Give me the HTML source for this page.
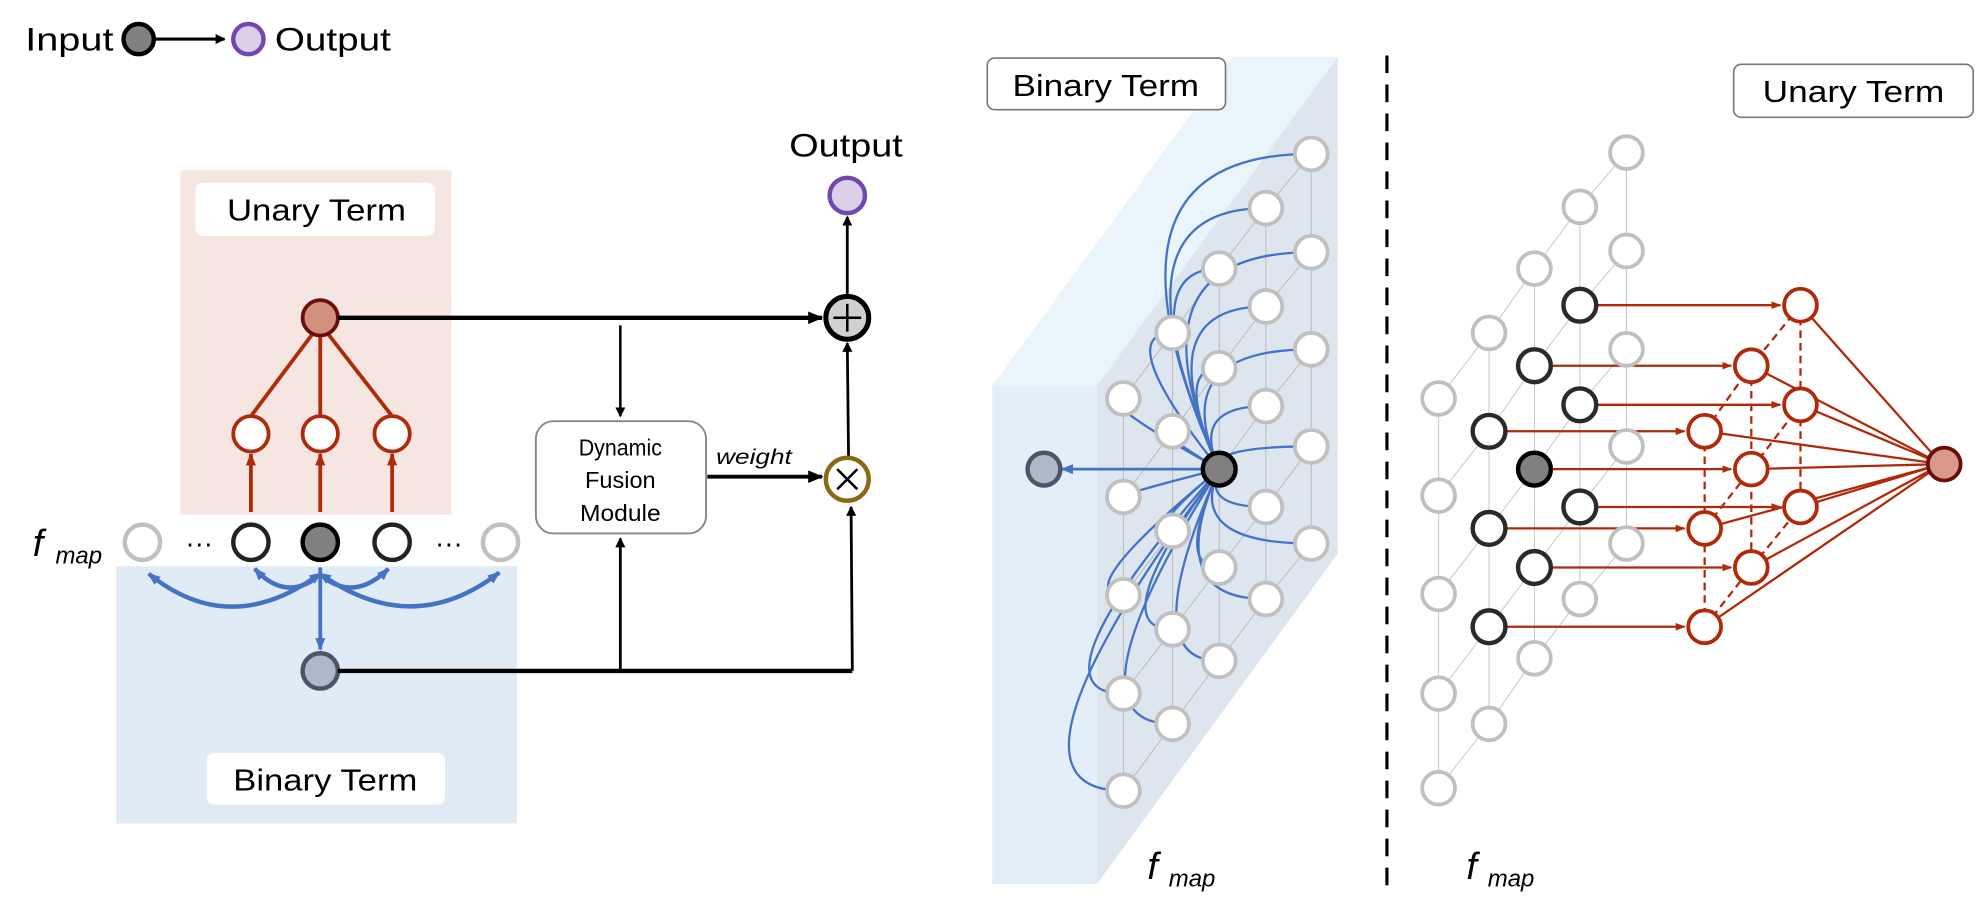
<!DOCTYPE html>
<html><head><meta charset="utf-8"><style>
html,body{margin:0;padding:0;background:#fff;}
svg{display:block;}
text{font-family:"Liberation Sans",sans-serif;}
</style></head><body>
<svg width="1977" height="908" viewBox="0 0 1568 720" preserveAspectRatio="none" xmlns="http://www.w3.org/2000/svg">
<defs>
<marker id="ak" markerWidth="8" markerHeight="8" refX="7" refY="4" orient="auto" markerUnits="userSpaceOnUse"><path d="M0,0 L8,4 L0,8 z" fill="#000"/></marker>
<marker id="akb" markerWidth="12" markerHeight="10" refX="11" refY="5" orient="auto" markerUnits="userSpaceOnUse"><path d="M0,0 L12,5 L0,10 z" fill="#000"/></marker>
<marker id="ar" markerWidth="10" markerHeight="8" refX="9" refY="4" orient="auto" markerUnits="userSpaceOnUse"><path d="M0,0 L10,4 L0,8 z" fill="#b02a0a"/></marker>
<marker id="arr" markerWidth="8" markerHeight="6" refX="7" refY="3" orient="auto" markerUnits="userSpaceOnUse"><path d="M0,0 L8,3 L0,6 z" fill="#b02a0a"/></marker>
<marker id="ab" markerWidth="10" markerHeight="8" refX="9" refY="4" orient="auto" markerUnits="userSpaceOnUse"><path d="M0,0 L10,4 L0,8 z" fill="#4472c4"/></marker>
<marker id="abs" markerWidth="10" markerHeight="8" refX="1" refY="4" orient="auto-start-reverse" markerUnits="userSpaceOnUse"><path d="M0,0 L10,4 L0,8 z" fill="#4472c4"/></marker>
</defs>

<!-- Legend -->
<text x="20" y="40" font-size="26" textLength="70" lengthAdjust="spacingAndGlyphs">Input</text>
<circle cx="110" cy="31" r="12" fill="#808080" stroke="#000" stroke-width="3.5"/>
<line x1="123" y1="31" x2="178" y2="31" stroke="#000" stroke-width="2.5" marker-end="url(#ak)"/>
<circle cx="197" cy="31" r="12" fill="#dcd0e8" stroke="#7048b0" stroke-width="3.5"/>
<text x="218" y="40" font-size="26" textLength="92" lengthAdjust="spacingAndGlyphs">Output</text>

<!-- Left: pink box -->
<rect x="143" y="135" width="215" height="273" fill="#f5e6e2"/>
<rect x="155" y="145" width="190" height="42" rx="6" fill="#fff"/>
<text x="180" y="175" font-size="24" textLength="142" lengthAdjust="spacingAndGlyphs">Unary Term</text>
<!-- blue box -->
<rect x="92" y="449" width="318" height="204" fill="#e1ebf5"/>
<rect x="164" y="597" width="189" height="41" rx="6" fill="#fff"/>
<text x="185" y="627" font-size="24" textLength="146" lengthAdjust="spacingAndGlyphs">Binary Term</text>

<!-- red tree -->
<g stroke="#b02a0a" stroke-width="3" fill="none">
<line x1="250" y1="262" x2="199" y2="330"/>
<line x1="254" y1="266" x2="254" y2="330"/>
<line x1="258" y1="262" x2="311" y2="330"/>
<line x1="199" y1="406" x2="199" y2="360" marker-end="url(#ar)"/>
<line x1="254" y1="406" x2="254" y2="360" marker-end="url(#ar)"/>
<line x1="311" y1="406" x2="311" y2="360" marker-end="url(#ar)"/>
</g>
<circle cx="254" cy="252" r="14" fill="#d4907f" stroke="#6b0d0d" stroke-width="3"/>
<g fill="#fff" stroke="#b02a0a" stroke-width="3">
<circle cx="199" cy="344" r="14"/><circle cx="254" cy="344" r="14"/><circle cx="311" cy="344" r="14"/>
</g>

<!-- fmap row -->
<text x="26" y="441" font-size="30" font-style="italic">f</text>
<text x="44" y="447" font-size="19" font-style="italic">map</text>
<g stroke-width="3.5">
<circle cx="113" cy="430" r="14" fill="#fff" stroke="#c0c0c0"/>
<circle cx="199" cy="430" r="14" fill="#fff" stroke="#222"/>
<circle cx="254" cy="430" r="14" fill="#808080" stroke="#000"/>
<circle cx="311" cy="430" r="14" fill="#fff" stroke="#222"/>
<circle cx="397" cy="430" r="14" fill="#fff" stroke="#c0c0c0"/>
</g>
<text x="147" y="438" font-size="22">···</text>
<text x="345" y="438" font-size="22">···</text>

<!-- blue arcs -->
<g stroke="#4472c4" stroke-width="3.5" fill="none">
<path d="M248,459 Q180,505 118,455" marker-start="url(#abs)" marker-end="url(#ab)"/>
<path d="M250,459 Q225,476 202,451" marker-end="url(#ab)"/>
<path d="M258,459 Q283,476 308,451" marker-end="url(#ab)"/>
<path d="M260,459 Q330,505 396,454" marker-start="url(#abs)" marker-end="url(#ab)"/>
<line x1="254" y1="450" x2="254" y2="515" stroke-width="3" marker-end="url(#ab)"/>
</g>
<circle cx="254" cy="532" r="14" fill="#aeb8c9" stroke="#4a5568" stroke-width="3.5"/>

<!-- black connectors -->
<g stroke="#000" fill="none">
<line x1="268" y1="252" x2="652" y2="252" stroke-width="3.5" marker-end="url(#akb)"/>
<line x1="492" y1="258" x2="492" y2="330" stroke-width="2" marker-end="url(#ak)"/>
<line x1="268" y1="532" x2="676" y2="532" stroke-width="3.5"/>
<line x1="492" y1="532" x2="492" y2="427" stroke-width="2.2" marker-end="url(#ak)"/>
<line x1="676" y1="532" x2="675" y2="402" stroke-width="2.2" marker-end="url(#ak)"/>
<line x1="673" y1="362" x2="672" y2="272" stroke-width="2.2" marker-end="url(#ak)"/>
<line x1="672" y1="233" x2="672" y2="172" stroke-width="2.2" marker-end="url(#ak)"/>
<line x1="561" y1="378" x2="652" y2="378" stroke-width="3" marker-end="url(#akb)"/>
</g>
<rect x="425" y="334" width="135" height="89" rx="14" fill="#fff" stroke="#888" stroke-width="1.5"/>
<text x="492" y="361" font-size="18" text-anchor="middle" textLength="66" lengthAdjust="spacingAndGlyphs">Dynamic</text>
<text x="492" y="387" font-size="18" text-anchor="middle" textLength="56" lengthAdjust="spacingAndGlyphs">Fusion</text>
<text x="492" y="413" font-size="18" text-anchor="middle" textLength="64" lengthAdjust="spacingAndGlyphs">Module</text>
<text x="598" y="368" font-size="17" font-style="italic" text-anchor="middle" textLength="60" lengthAdjust="spacingAndGlyphs">weight</text>
<circle cx="672" cy="252" r="17" fill="#d0d0d0" stroke="#000" stroke-width="4"/>
<path d="M672,241 V263 M661,252 H683" stroke="#000" stroke-width="2"/>
<circle cx="672" cy="380" r="17" fill="#fff" stroke="#8b6914" stroke-width="3.5"/>
<path d="M664,372 L680,388 M680,372 L664,388" stroke="#000" stroke-width="2"/>
<circle cx="672" cy="155" r="14" fill="#dcd0e8" stroke="#7048b0" stroke-width="3.5"/>
<text x="626" y="124" font-size="26" textLength="90" lengthAdjust="spacingAndGlyphs">Output</text>

<!-- Right: binary slab -->
<polygon points="787,306 978,45 1061,45 870,306" fill="#eaf4fb"/>
<rect x="787" y="306" width="83" height="395" fill="#e3eef8"/>
<polygon points="870,306 1061,45 1061,439 870,701" fill="#dde6ee"/>
<rect x="783" y="46" width="189" height="41" rx="6" fill="#fff" stroke="#777" stroke-width="1.3"/>
<text x="803" y="76" font-size="24" textLength="148" lengthAdjust="spacingAndGlyphs">Binary Term</text>

<g stroke="#bbb" stroke-width="0.8">
<line x1="891" y1="316" x2="891" y2="627"/><line x1="930" y1="264" x2="930" y2="574"/><line x1="967" y1="213" x2="967" y2="524"/><line x1="1004" y1="165" x2="1004" y2="475"/><line x1="1040" y1="122" x2="1040" y2="431"/>
<polyline fill="none" points="891,316 930,264 967,213 1004,165 1040,122"/>
<polyline fill="none" points="891,394 930,342 967,292 1004,243 1040,200"/>
<polyline fill="none" points="891,472 930,421 967,372 1004,322 1040,277"/>
<polyline fill="none" points="891,550 930,499 967,450 1004,402 1040,354"/>
<polyline fill="none" points="891,627 930,574 967,524 1004,475 1040,431"/>
</g>
<g stroke="#4472c4" stroke-width="1.8" fill="none">
<path d="M967,372 Q866,316 891,316"/><path d="M967,372 Q881,394 891,394"/><path d="M967,372 Q846,472 891,472"/><path d="M967,372 Q811,550 891,550"/><path d="M967,372 Q776,627 891,627"/>
<path d="M967,372 Q881,264 930,264"/><path d="M967,372 Q916,342 930,342"/><path d="M967,372 Q908,421 930,421"/><path d="M967,372 Q873,499 930,499"/><path d="M967,372 Q839,574 930,574"/>
<path d="M967,372 Q895,213 967,213"/><path d="M967,372 Q931,292 967,292"/><path d="M967,372 Q932,450 967,450"/><path d="M967,372 Q899,524 967,524"/>
<path d="M967,372 Q874,165 1004,165"/><path d="M967,372 Q909,243 1004,243"/><path d="M967,372 Q944,322 1004,322"/><path d="M967,372 Q953,402 1004,402"/><path d="M967,372 Q921,475 1004,475"/>
<path d="M967,372 Q854,122 1040,122"/><path d="M967,372 Q890,200 1040,200"/><path d="M967,372 Q924,277 1040,277"/><path d="M967,372 Q959,354 1040,354"/><path d="M967,372 Q940,431 1040,431"/>
<line x1="955" y1="372" x2="842" y2="372" stroke-width="2.2" marker-end="url(#ab)"/>
</g>
<g fill="#fff" stroke="#c0c0c0" stroke-width="3">
<circle cx="891" cy="316" r="13"/><circle cx="891" cy="394" r="13"/><circle cx="891" cy="472" r="13"/><circle cx="891" cy="550" r="13"/><circle cx="891" cy="627" r="13"/>
<circle cx="930" cy="264" r="13"/><circle cx="930" cy="342" r="13"/><circle cx="930" cy="421" r="13"/><circle cx="930" cy="499" r="13"/><circle cx="930" cy="574" r="13"/>
<circle cx="967" cy="213" r="13"/><circle cx="967" cy="292" r="13"/><circle cx="967" cy="450" r="13"/><circle cx="967" cy="524" r="13"/>
<circle cx="1004" cy="165" r="13"/><circle cx="1004" cy="243" r="13"/><circle cx="1004" cy="322" r="13"/><circle cx="1004" cy="402" r="13"/><circle cx="1004" cy="475" r="13"/>
<circle cx="1040" cy="122" r="13"/><circle cx="1040" cy="200" r="13"/><circle cx="1040" cy="277" r="13"/><circle cx="1040" cy="354" r="13"/><circle cx="1040" cy="431" r="13"/>
</g>
<circle cx="967" cy="372" r="13" fill="#808080" stroke="#000" stroke-width="3.5"/>
<circle cx="828" cy="372" r="13" fill="#aeb8c9" stroke="#4a5568" stroke-width="3.5"/>
<text x="910" y="697" font-size="30" font-style="italic">f</text>
<text x="927" y="703" font-size="19" font-style="italic">map</text>

<!-- divider -->
<line x1="1100" y1="44" x2="1100" y2="705" stroke="#000" stroke-width="2.5" stroke-dasharray="14,9"/>

<!-- Right: unary -->
<rect x="1375" y="51" width="190" height="42" rx="6" fill="#fff" stroke="#777" stroke-width="1.3"/>
<text x="1398" y="81" font-size="24" textLength="144" lengthAdjust="spacingAndGlyphs">Unary Term</text>
<g stroke="#c8c8c8" stroke-width="0.8" fill="none">
<line x1="1141" y1="316" x2="1141" y2="625"/><line x1="1181" y1="264" x2="1181" y2="574"/><line x1="1217" y1="213" x2="1217" y2="522"/><line x1="1253" y1="164" x2="1253" y2="475"/><line x1="1290" y1="121" x2="1290" y2="431"/>
<polyline points="1141,316 1181,264 1217,213 1253,164 1290,121"/>
<polyline points="1141,393 1181,342 1217,290 1253,242 1290,199"/>
<polyline points="1141,471 1181,419 1217,372 1253,321 1290,277"/>
<polyline points="1141,550 1181,497 1217,450 1253,402 1290,354"/>
<polyline points="1141,625 1181,574 1217,522 1253,475 1290,431"/>
</g>
<g stroke="#b02a0a" stroke-width="1.8" fill="none">
<line x1="1267" y1="242" x2="1412" y2="242" marker-end="url(#arr)"/>
<line x1="1231" y1="290" x2="1373" y2="290" marker-end="url(#arr)"/>
<line x1="1267" y1="321" x2="1412" y2="321" marker-end="url(#arr)"/>
<line x1="1195" y1="342" x2="1336" y2="342" marker-end="url(#arr)"/>
<line x1="1231" y1="372" x2="1373" y2="372" marker-end="url(#arr)"/>
<line x1="1267" y1="402" x2="1412" y2="402" marker-end="url(#arr)"/>
<line x1="1195" y1="419" x2="1336" y2="419" marker-end="url(#arr)"/>
<line x1="1231" y1="450" x2="1373" y2="450" marker-end="url(#arr)"/>
<line x1="1195" y1="497" x2="1336" y2="497" marker-end="url(#arr)"/>
<g stroke-dasharray="6,4">
<line x1="1352" y1="342" x2="1352" y2="497"/><line x1="1389" y1="290" x2="1389" y2="450"/><line x1="1428" y1="242" x2="1428" y2="402"/>
<polyline points="1352,342 1389,290 1428,242"/><polyline points="1352,419 1389,372 1428,321"/><polyline points="1352,497 1389,450 1428,402"/>
</g>
<line x1="1428" y1="242" x2="1540" y2="368"/><line x1="1389" y1="290" x2="1540" y2="368"/><line x1="1428" y1="321" x2="1540" y2="368"/>
<line x1="1352" y1="342" x2="1540" y2="368"/><line x1="1389" y1="372" x2="1540" y2="368"/><line x1="1428" y1="402" x2="1540" y2="368"/>
<line x1="1352" y1="419" x2="1540" y2="368"/><line x1="1389" y1="450" x2="1540" y2="368"/><line x1="1352" y1="497" x2="1540" y2="368"/>
</g>
<g fill="#fff" stroke="#c0c0c0" stroke-width="3">
<circle cx="1141" cy="316" r="13"/><circle cx="1141" cy="393" r="13"/><circle cx="1141" cy="471" r="13"/><circle cx="1141" cy="550" r="13"/><circle cx="1141" cy="625" r="13"/>
<circle cx="1181" cy="264" r="13"/><circle cx="1181" cy="574" r="13"/>
<circle cx="1217" cy="213" r="13"/><circle cx="1217" cy="522" r="13"/>
<circle cx="1253" cy="164" r="13"/><circle cx="1253" cy="475" r="13"/>
<circle cx="1290" cy="121" r="13"/><circle cx="1290" cy="199" r="13"/><circle cx="1290" cy="277" r="13"/><circle cx="1290" cy="354" r="13"/><circle cx="1290" cy="431" r="13"/>
</g>
<g fill="#fff" stroke="#2a2a2a" stroke-width="3.5">
<circle cx="1253" cy="242" r="13"/><circle cx="1217" cy="290" r="13"/><circle cx="1253" cy="321" r="13"/><circle cx="1181" cy="342" r="13"/>
<circle cx="1253" cy="402" r="13"/><circle cx="1181" cy="419" r="13"/><circle cx="1217" cy="450" r="13"/><circle cx="1181" cy="497" r="13"/>
</g>
<circle cx="1217" cy="372" r="13" fill="#808080" stroke="#000" stroke-width="3.5"/>
<g fill="#fff" stroke="#b02a0a" stroke-width="3">
<circle cx="1428" cy="242" r="13"/><circle cx="1389" cy="290" r="13"/><circle cx="1428" cy="321" r="13"/>
<circle cx="1352" cy="342" r="13"/><circle cx="1389" cy="372" r="13"/><circle cx="1428" cy="402" r="13"/>
<circle cx="1352" cy="419" r="13"/><circle cx="1389" cy="450" r="13"/><circle cx="1352" cy="497" r="13"/>
</g>
<circle cx="1542" cy="368" r="13" fill="#d9998a" stroke="#6b0d0d" stroke-width="3"/>
<text x="1163" y="697" font-size="30" font-style="italic">f</text>
<text x="1180" y="703" font-size="19" font-style="italic">map</text>
</svg>
</body></html>
